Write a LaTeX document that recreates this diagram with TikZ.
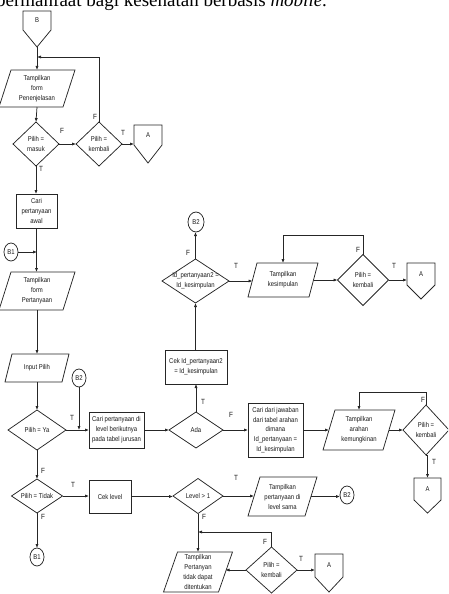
\documentclass[tikz,border=0pt]{standalone}
\usepackage{fontspec}
\usetikzlibrary{shapes.geometric,calc,arrows.meta}
\newfontfamily\labf[FakeStretch=0.85]{Liberation Sans}
\newfontfamily\headf{Liberation Serif}
\tikzset{
 line/.style={draw=black!85, line width=0.75pt},
 arr/.style={line, -{Latex[length=4pt,width=3.2pt]}},
 txt/.style={font=\labf\fontsize{7}{10}\selectfont, align=center, inner sep=0pt, text=black!90},
 tf/.style={font=\labf\fontsize{7.5}{8}\selectfont, inner sep=0pt, text=black!90},
 inv/.style={draw=none, rectangle, inner sep=0pt, outer sep=0pt},
 boxr/.style={line, rectangle, inner sep=0pt, outer sep=0pt},
 dia/.style={line, diamond, inner sep=0pt, outer sep=0pt},
 conn/.style={line, ellipse, inner sep=0pt, outer sep=0pt, minimum width=14pt, minimum height=18pt},
}
\newcommand\pgram[7]{% name cx cy w h slant text
 \node[inv, minimum width=#4, minimum height=#5] (#1) at (#2,#3) {};
 \draw[line] ($(#1.north west)+(#6/2,0)$) -- ($(#1.north east)+(#6/2,0)$) -- ($(#1.south east)-(#6/2,0)$) -- ($(#1.south west)-(#6/2,0)$) -- cycle;
 \node[txt] (#1t) at (#1) {#7};
}
\newcommand\offpg[7]{% name cx top w vside h label
 \node[inv, minimum width=#4, minimum height=#6, anchor=north] (#1) at (#2,#3) {};
 \draw[line] (#1.north west) -- (#1.north east) -- ($(#1.north east)+(0,-#5)$) -- (#1.south) -- ($(#1.north west)+(0,-#5)$) -- cycle;
 \node[txt] (#1t) at ($(#1.north)+(0,-#5/2)$) {#7};
}
\newcommand\dmd[6]{% name cx cy w h text
 \node[dia, minimum width=#4, minimum height=#5] (#1) at (#2,#3) {};
 \node[txt] (#1t) at (#1) {#6};
}
\begin{document}
\begin{tikzpicture}[x=1pt,y=1pt]
\useasboundingbox (0,0) rectangle (448,-594);
\clip (0,0) rectangle (448,-594);
\node[anchor=base west, inner sep=0pt, font=\headf\fontsize{19}{22}\selectfont] (head) at (-4,-7) {bermanfaat bagi kesehatan berbasis \textit{mobile}.};

% off-page connectors
\offpg{O1}{37}{-11}{28}{19}{36}{B}
\offpg{O2}{148}{-125}{28}{20}{38}{A}
\offpg{O3}{421}{-263}{28}{22}{36}{A}
\offpg{O4}{427.5}{-478}{27}{22}{35}{A}
\offpg{O5}{329}{-554}{28}{23}{38}{A}

% parallelograms
\pgram{P1}{37}{-88.5}{64}{37}{12}{Tampilkan\\form\\Penenjelasan}
\pgram{P2}{37}{-291}{64}{38}{12}{Tampilkan\\form\\Pertanyaan}
\pgram{P3}{37}{-368}{57}{28}{7}{Input Pilih}
\pgram{P4}{283}{-280}{61}{34}{9}{Tampilkan\\kesimpulan}
\pgram{P5}{359}{-430}{60}{40}{12}{Tampilkan\\arahan\\kemungkinan}
\pgram{P6}{282.5}{-496.5}{57}{39}{12}{Tampilkan\\pertanyaan di\\level sama}
\pgram{P7}{198}{-572}{55}{40}{14}{Tampilkan\\Pertanyan\\tidak dapat\\ditentukan}

% diamonds
\dmd{D1}{36}{-144}{46}{44}{Pilih =\\masuk}
\dmd{D2}{99}{-144}{46}{44}{Pilih =\\kembali}
\dmd{D3}{37}{-430}{58}{40}{Pilih = Ya}
\dmd{D4}{196}{-430}{54}{36}{Ada}
\dmd{D5}{195.5}{-281}{67}{44}{Id\_pertanyaan2 =\\Id\_kesimpulan}
\dmd{D6}{363}{-280}{51}{51}{Pilih =\\kembali}
\dmd{D7}{426}{-430}{46}{50}{Pilih =\\kembali}
\dmd{D8}{37}{-496}{51}{34}{Pilih = Tidak}
\dmd{D9}{198}{-496}{50}{35}{Level  > 1}
\dmd{D10}{271.5}{-570}{51}{46}{Pilih =\\kembali}

% rectangles
\node[boxr, minimum width=41, minimum height=34] (R1) at (36.5,-211) {};
\node[txt] (R1t) at (R1) {Cari\\pertanyaan\\awal};
\node[boxr, minimum width=55, minimum height=36] (R2) at (116.5,-430) {};
\node[txt] (R2t) at (R2) {Cari pertanyaan di\\level berikutnya\\pada tabel jurusan};
\node[boxr, minimum width=62, minimum height=34] (R3) at (196,-367) {};
\node[txt] (R3t) at (R3) {Cek Id\_pertanyaan2\\= Id\_kesimpulan};
\node[boxr, minimum width=55, minimum height=54] (R4) at (275.5,-430) {};
\node[txt, font=\labf\fontsize{7}{9.6}\selectfont] (R4t) at (R4) {Cari dari jawaban\\dari tabel arahan\\dimana\\Id\_pertanyaan =\\Id\_kesimpulan};
\node[boxr, minimum width=42, minimum height=33] (R5) at (110,-496.5) {};
\node[txt] (R5t) at (R5) {Cek level};

% on-page connectors
\node[conn] (C1) at (11,-252) {};
\node[txt] (C1t) at (C1) {B1};
\node[conn] (C2) at (79,-378) {};
\node[txt] (C2t) at (C2) {B2};
\node[conn, minimum width=16pt, minimum height=20pt] (C3) at (196,-222) {};
\node[txt] (C3t) at (C3) {B2};
\node[conn] (C4) at (347,-495) {};
\node[txt] (C4t) at (C4) {B2};
\node[conn] (C5) at (37,-557) {};
\node[txt] (C5t) at (C5) {B1};

% junction points
\coordinate (j1) at (37,-57);
\coordinate (j2) at (37,-252);
\coordinate (j5) at (198,-532);

% connectors
\draw[arr] (O1.south) -- (P1.north);
\draw[arr] (D2.north) |- (j1);
\draw[arr] (P1.south) -- (D1.north);
\draw[arr] (D1.east) -- (D2.west);
\draw[arr] (D2.east) -- (D2.east -| O2.west);
\draw[arr] (D1.south) -- (D1.south |- R1.north);
\draw[arr] (R1.south) -- (R1.south |- P2.north);
\draw[arr] (C1.east) -- (j2);
\draw[arr] (P2.south) -- (P3.north);
\draw[arr] (P3.south) -- (D3.north);
\draw[arr] (D3.east) -- (R2.west);
\draw[arr] (C2.south) -- (C2.south |- D3.east);
\draw[arr] (R2.east) -- (D4.west);
\draw[arr] (D4.north) -- (R3.south);
\draw[arr] (R3.north) -- (R3.north -| D5.south) -- (D5.south);
\draw[arr] (D5.north) -- (D5.north |- C3.south);
\draw[arr] (D5.east) -- (D5.east -| P4.west);
\draw[arr] (P4.east) -- (P4.east -| D6.west);
\draw[arr] (D6.east) -- (D6.east -| O3.west);
\draw[arr] (D6.north) -- ++(0,19) -| (P4.north);
\draw[arr] (D4.east) -- (R4.west);
\draw[arr] (R4.east) -- (P5.west);
\draw[arr] (P5.east) -- (D7.west);
\draw[arr] (D7.north) -- ++(0,13) -| (P5.north);
\draw[arr] (D7.south) -- (D7.south -| O4.north) -- (O4.north);
\draw[arr] (D3.south) -- (D8.north);
\draw[arr] (D8.east) -- (D8.east -| R5.west);
\draw[arr] (D8.south) -- (C5.north);
\draw[arr] (R5.east) -- (R5.east -| D9.west);
\draw[arr] (D9.east) -- (D9.east -| P6.west);
\draw[arr] (P6.east) -- (P6.east -| C4.west);
\draw[arr] (D9.south) -- (P7.north);
\draw[arr] (D10.north) |- (j5);
\draw[arr] (D10.west) -- (D10.west -| P7.east);
\draw[arr] (D10.east) -- (D10.east -| O5.west);

% T/F labels
\node[tf] (l1) at (62,-131) {F};
\node[tf] (l2) at (123,-133) {T};
\node[tf] (l3) at (95,-117) {F};
\node[tf] (l4) at (41,-169) {T};
\node[tf] (l5) at (72,-418) {T};
\node[tf] (l6) at (43,-471) {F};
\node[tf] (l7) at (203,-402) {T};
\node[tf] (l8) at (231,-415) {F};
\node[tf] (l9) at (188,-253) {F};
\node[tf] (l10) at (236,-266) {T};
\node[tf] (l11) at (358,-250) {F};
\node[tf] (l12) at (394,-266) {T};
\node[tf] (l13) at (423,-400) {F};
\node[tf] (l14) at (434,-462) {T};
\node[tf] (l15) at (73,-485) {T};
\node[tf] (l16) at (43,-517) {F};
\node[tf] (l17) at (236,-478) {T};
\node[tf] (l18) at (204,-517) {F};
\node[tf] (l19) at (265,-542) {F};
\node[tf] (l20) at (301,-559) {T};
\end{tikzpicture}
\end{document}
